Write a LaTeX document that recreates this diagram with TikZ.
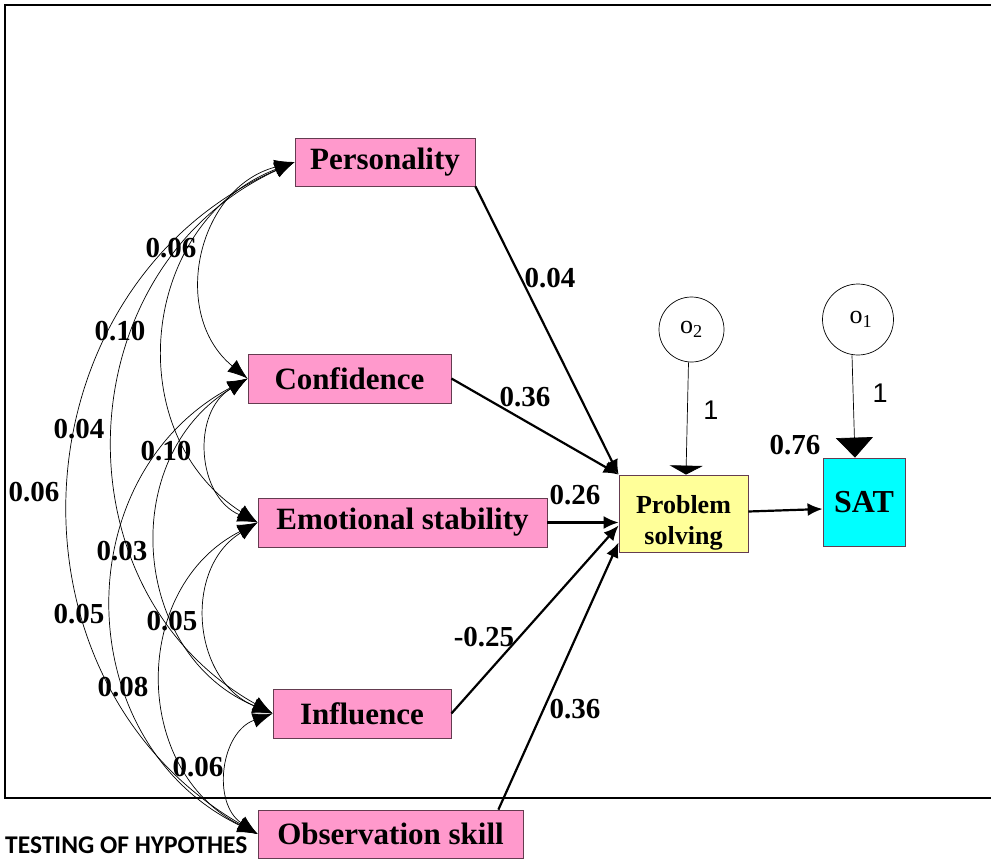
\documentclass[tikz,border=0pt]{standalone}
\usepackage{fontspec}
\setmainfont{Liberation Serif}
\newfontfamily\arialfont{Liberation Sans}
\newfontfamily\calfont{Carlito}
\usetikzlibrary{arrows.meta,calc}
\definecolor{pinkfill}{RGB}{255,153,204}
\definecolor{boxline}{RGB}{100,60,80}
\definecolor{psfill}{RGB}{255,255,153}
\definecolor{satfill}{RGB}{0,255,255}
\begin{document}
\begin{tikzpicture}[x=1pt,y=-1pt,
  varbox/.style={draw=boxline,line width=0.8pt,inner sep=0pt,font=\bfseries\fontsize{31}{36}\selectfont},
  pinkbox/.style={varbox,fill=pinkfill},
  cov/.style={line width=0.7pt,{Latex[length=20pt,width=15pt]}-{Latex[length=20pt,width=15pt]},bend right=63,looseness=1.17},
  patharrow/.style={line width=2.2pt,-{Latex[length=15pt,width=13pt]}},
  coef/.style={font=\bfseries\fontsize{29}{32}\selectfont,inner sep=0pt},
  onelab/.style={font=\arialfont\fontsize{27}{30}\selectfont,inner sep=0pt},
  errc/.style={draw,circle,line width=0.7pt,inner sep=0pt,font=\fontsize{26}{30}\selectfont}
]
\useasboundingbox (0,0) rectangle (991,860);
\fill[white] (0,0) rectangle (991,860);
% frame
\draw[line width=2pt] (991,5) -- (5,5) -- (5,798) -- (991,798);
% caption text
\node[anchor=west,inner sep=0pt,font=\calfont\bfseries\fontsize{25.5}{29}\selectfont] (cap) at (5,845) {TESTING OF HYPOTHES};
% boxes
\node[pinkbox,minimum width=180pt,minimum height=48pt] (pers) at (385,162) {Personality};
\node[pinkbox,minimum width=203pt,minimum height=49pt] (conf) at (349.5,378.5) {Confidence\hspace{8pt}};
\node[pinkbox,minimum width=289pt,minimum height=49pt] (emo) at (402.5,522.5) {Emotional stability};
\node[pinkbox,minimum width=178pt,minimum height=49pt] (infl) at (362,713.5) {Influence\hspace{12pt}};
\node[pinkbox,minimum width=265pt,minimum height=48pt] (obs) at (390.5,834) {Observation skill\hspace{10pt}};
\node[varbox,fill=psfill,minimum width=129pt,minimum height=77pt] (ps) at (683.5,513.5) {};
\node[align=center,inner sep=0pt,font=\bfseries\fontsize{26}{31}\selectfont] (pstext) at ($(ps.center)+(0,9)$) {Problem\\solving};
\node[varbox,fill=satfill,minimum width=82pt,minimum height=88pt,font=\bfseries\fontsize{32}{36}\selectfont] (sat) at (864,502) {SAT};
\node[errc,minimum size=65pt] (o2) at (691.5,329.5) {o\textsubscript{2}};
\node[errc,minimum size=71pt] (o1) at (858,319.5) {\hspace{6pt}o\textsubscript{1}};
% covariances
\draw[cov] (pers.west) to (conf.west);
\draw[cov] (pers.west) to (emo.west);
\draw[cov] (pers.west) to (infl.west);
\draw[cov] (pers.west) to (obs.west);
\draw[cov] (conf.west) to (emo.west);
\draw[cov] (conf.west) to (infl.west);
\draw[cov] (conf.west) to (obs.west);
\draw[cov] (emo.west) to (infl.west);
\draw[cov] (emo.west) to (obs.west);
\draw[cov] (infl.west) to (obs.west);
% covariance labels
\node[coef] (c1) at (171,248) {0.06};
\node[coef] (c2) at (120,331) {0.10};
\node[coef] (c3) at (79,429) {0.04};
\node[coef] (c4) at (34,492) {0.06};
\node[coef] (c5) at (166,451) {0.10};
\node[coef] (c6) at (122,551) {0.03};
\node[coef] (c7) at (79,614) {0.05};
\node[coef] (c8) at (172,621) {0.05};
\node[coef] (c9) at (123,687) {0.08};
\node[coef] (c10) at (198,767) {0.06};
% regression paths
\draw[patharrow] (pers.south east) -- (ps.north west);
\draw[patharrow] (conf.east) -- (ps.north west);
\draw[patharrow] (emo.east) -- (emo.east -| ps.west);
\draw[patharrow] (infl.east) -- ($(ps.west)+(0,12)$);
\draw[patharrow] ($(obs.north east)+(-25,0)$) -- ($(ps.south west)+(0,-10)$);
\draw[patharrow] ($(ps.east)+(0,-2)$) -- ($(sat.west)+(0,7)$);
\draw[line width=0.7pt,-{Triangle[length=9pt,width=33pt]}] ($(o2.south)+(-3,0)$) -- ($(ps.north)+(2.5,0)$);
\draw[line width=0.7pt,-{Triangle[length=20pt,width=37pt]}] ($(o1.south)+(-6,0)$) -- ($(sat.north)+(-9,0)$);
% path labels
\node[coef] (p1) at (550,278) {0.04};
\node[coef] (p2) at (525,397) {0.36};
\node[coef] (p3) at (575,495) {0.26};
\node[coef] (p4) at (484,637) {-0.25};
\node[coef] (p5) at (575,709) {0.36};
\node[coef] (p6) at (795,445) {0.76};
\node[onelab] (l1) at (711,410) {1};
\node[onelab] (l2) at (880,393) {1};
\end{tikzpicture}
\end{document}
